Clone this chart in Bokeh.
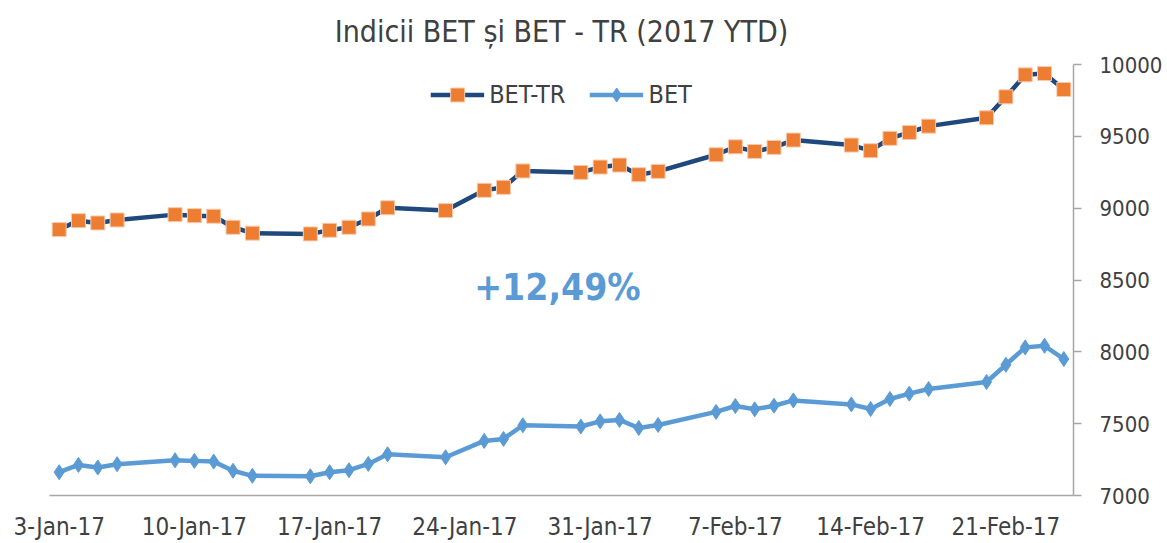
import pandas as pd
from bokeh.plotting import figure
from bokeh.models import Range1d, FixedTicker, Label, Legend, LegendItem
from bokeh.embed import file_html
from bokeh.resources import INLINE

dates = ["2017-01-03", "2017-01-04", "2017-01-05", "2017-01-06",
         "2017-01-09", "2017-01-10", "2017-01-11", "2017-01-12", "2017-01-13",
         "2017-01-16", "2017-01-17", "2017-01-18", "2017-01-19", "2017-01-20",
         "2017-01-23", "2017-01-25", "2017-01-26", "2017-01-27",
         "2017-01-30", "2017-01-31", "2017-02-01", "2017-02-02", "2017-02-03",
         "2017-02-06", "2017-02-07", "2017-02-08", "2017-02-09", "2017-02-10",
         "2017-02-13", "2017-02-14", "2017-02-15", "2017-02-16", "2017-02-17",
         "2017-02-20", "2017-02-21", "2017-02-22", "2017-02-23", "2017-02-24"]

bet_tr = [8851, 8913, 8897, 8918,
          8955, 8948, 8944, 8867, 8826,
          8821, 8846, 8867, 8925, 9003,
          8983, 9124, 9145, 9259,
          9249, 9286, 9300, 9233, 9256,
          9372, 9427, 9395, 9423, 9474,
          9439, 9400, 9486, 9527, 9571,
          9629, 9775, 9928, 9937, 9826]

bet = [7162, 7213, 7195, 7218,
       7245, 7241, 7236, 7172, 7137,
       7134, 7162, 7176, 7220, 7287,
       7266, 7380, 7394, 7489,
       7480, 7516, 7526, 7470, 7491,
       7582, 7623, 7600, 7625, 7662,
       7634, 7602, 7672, 7709, 7741,
       7790, 7910, 8031, 8042, 7950]

tick_dates = ["2017-01-03", "2017-01-10", "2017-01-17", "2017-01-24",
              "2017-01-31", "2017-02-07", "2017-02-14", "2017-02-21"]
tick_labels = ["3-Jan-17", "10-Jan-17", "17-Jan-17", "24-Jan-17",
               "31-Jan-17", "7-Feb-17", "14-Feb-17", "21-Feb-17"]
y_ticks = [7000, 7500, 8000, 8500, 9000, 9500, 10000]

title_text = "Indicii BET și BET - TR (2017 YTD)"
gain_text = "+12,49%"

FONT = "DejaVu Sans Condensed, Liberation Sans"
TXT = "#404040"
NAVY = "#1F497D"
ORANGE = "#ED7D31"
LBLUE = "#5B9BD5"

d0 = pd.Timestamp(dates[0])
x = [(pd.Timestamp(d) - d0).days for d in dates]
xt = [(pd.Timestamp(d) - d0).days for d in tick_dates]
x_last = x[-1]

p = figure(width=1167, height=543, output_backend="svg", toolbar_location=None,
           x_range=Range1d(-0.5, x_last + 0.5), y_range=Range1d(7000, 10000),
           y_axis_location="right")
p.min_border_left = 49
p.min_border_right = 94
p.min_border_top = 0
p.min_border_bottom = 47
p.outline_line_color = None
p.background_fill_color = "white"
p.border_fill_color = "white"
p.xgrid.visible = False
p.ygrid.visible = False

p.title.text = title_text
p.title.align = "center"
p.title.vertical_align = "top"
p.title.text_font = FONT
p.title.text_font_size = "30px"
p.title.text_font_style = "normal"
p.title.text_color = TXT
p.title.standoff = 27

r1 = p.line(x, bet_tr, line_color=NAVY, line_width=4.5)
r1m = p.scatter(x, bet_tr, marker="square", size=14, fill_color=ORANGE,
                line_color="#F8CBAD", line_width=1)
r2 = p.line(x, bet, line_color=LBLUE, line_width=4.5)
r2m = p.scatter(x, bet, marker="diamond", size=15, fill_color=LBLUE,
                line_color=LBLUE, line_width=1)

xa = p.xaxis[0]
xa.ticker = FixedTicker(ticks=xt)
xa.major_label_overrides = {t: l for t, l in zip(xt, tick_labels)}
xa.major_tick_line_color = None
xa.minor_tick_line_color = None
xa.axis_line_color = "#A6A6A6"
xa.axis_line_width = 1.5
xa.major_label_text_font = FONT
xa.major_label_text_font_size = "24px"
xa.major_label_text_color = TXT
xa.major_label_standoff = 11

ya = p.yaxis[0]
ya.ticker = FixedTicker(ticks=y_ticks)
ya.minor_tick_line_color = None
ya.axis_line_color = "#A6A6A6"
ya.axis_line_width = 1.5
ya.major_tick_line_color = "#A6A6A6"
ya.major_tick_line_width = 1.5
ya.major_tick_out = 8
ya.major_tick_in = 0
ya.major_label_text_font = FONT
ya.major_label_text_font_size = "22px"
ya.major_label_text_color = TXT
ya.major_label_standoff = 18

legend = Legend(items=[LegendItem(label="BET-TR", renderers=[r1, r1m]),
                       LegendItem(label="BET", renderers=[r2, r2m])],
                location="top_center", orientation="horizontal",
                glyph_width=54, glyph_height=35, label_standoff=5, spacing=24,
                margin=13, padding=5, border_line_color=None,
                background_fill_alpha=0,
                label_text_font=FONT, label_text_font_size="25px",
                label_text_color=TXT)
p.add_layout(legend, "center")

p.add_layout(Label(x=25.79, y=8447, text=gain_text, text_align="center",
                   text_baseline="middle", text_font=FONT, text_font_style="bold",
                   text_font_size="37px", text_color=LBLUE))

open("out.html", "w").write(file_html(p, INLINE))
